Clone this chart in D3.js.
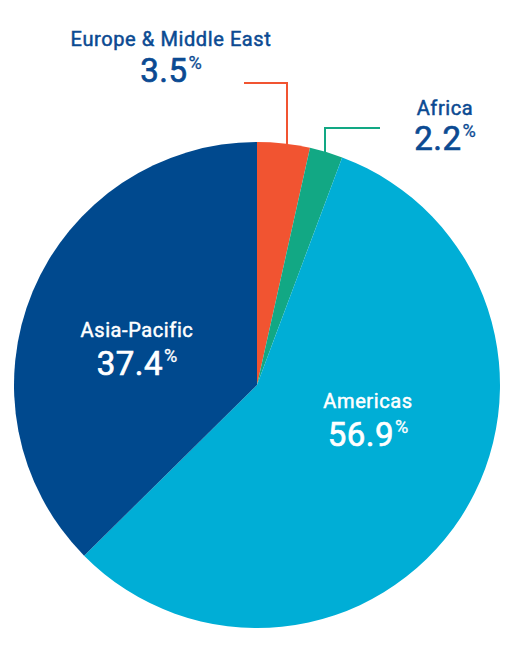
<!DOCTYPE html>
<html>
<head>
<meta charset="utf-8">
<script src="https://cdn.jsdelivr.net/npm/d3@7"></script>
<style>
  html, body { margin: 0; padding: 0; background: #ffffff; }
  svg { display: block; }
</style>
</head>
<body>
<script>
// data
var regions = ["Europe & Middle East", "Africa", "Americas", "Asia-Pacific"];
var shares  = [3.5, 2.2, 56.9, 37.4];
var colors  = ["#f15431", "#12a884", "#00aed6", "#00498e"];

var width = 513, height = 657;
var cx = 257, cy = 385, radius = 243;
var textBlue = "#0b4a92";

var svg = d3.select("body")
    .append("svg")
    .attr("width", width)
    .attr("height", height)
    .style("font-family", "Roboto, 'Noto Sans', sans-serif");

var data = regions.map(function(r, i) { return { name: r, value: shares[i], color: colors[i] }; });

var pie = d3.pie()
    .sort(null)
    .value(function(d) { return d.value; });

var arc = d3.arc()
    .innerRadius(0)
    .outerRadius(radius);

var arcs = pie(data);

var g = svg.append("g")
    .attr("transform", "translate(" + cx + "," + cy + ")");

g.selectAll("path.slice")
    .data(arcs)
    .enter()
    .append("path")
    .attr("class", "slice")
    .attr("d", arc)
    .attr("fill", function(d) { return d.data.color; });

// label placement (offset from pie centre)
var labelPos = [
    { x: -86,  y: -339, dy: 36, vx: 30, vy: -302, hx: -13, inside: false },
    { x: 188,  y: -270, dy: 35, vx: 68, vy: -257, hx: 123, inside: false },
    { x: 111,  y: 23,   dy: 38, inside: true },
    { x: -120, y: -48,  dy: 38, inside: true }
];

// Roboto Medium is not available, so thicken the regular face a little
function pctLabel (sel, x, y, value, size, fill)
{
    var t = sel.append("text")
        .attr("x", x)
        .attr("y", y)
        .attr("text-anchor", "middle")
        .style("fill", fill)
        .style("stroke", fill)
        .style("stroke-width", 0.7)
        .style("font-size", size + "px")
        .style("font-weight", 400)
        .style("letter-spacing", "0.5px");
    t.append("tspan").text(d3.format(".1f")(value));
    t.append("tspan")
        .attr("dy", -size * 0.4)
        .attr("dx", 1)
        .style("font-size", (size * 0.55) + "px")
        .style("stroke-width", 0.3)
        .style("letter-spacing", "0px")
        .text("%");
    return t;
}

arcs.forEach(function(d, i) {
    var p = labelPos[i];
    var fill = p.inside ? "#ffffff" : textBlue;
    if (!p.inside) {
        // leader line from the slice edge
        var edgeY = -Math.sqrt(radius * radius - p.vx * p.vx);
        g.append("path")
            .attr("d", "M" + p.vx + "," + (edgeY + 2) + "V" + p.vy + "H" + p.hx)
            .attr("fill", "none")
            .attr("stroke", d.data.color)
            .attr("stroke-width", 2);
    }
    g.append("text")
        .attr("x", p.x)
        .attr("y", p.y)
        .attr("text-anchor", "middle")
        .style("fill", fill)
        .style("stroke", fill)
        .style("stroke-width", 0.5)
        .style("font-size", "20px")
        .style("font-weight", 400)
        .style("letter-spacing", "0.6px")
        .text(d.data.name);
    pctLabel(g, p.x, p.y + p.dy, d.data.value, 33, fill);
});
</script>
</body>
</html>
